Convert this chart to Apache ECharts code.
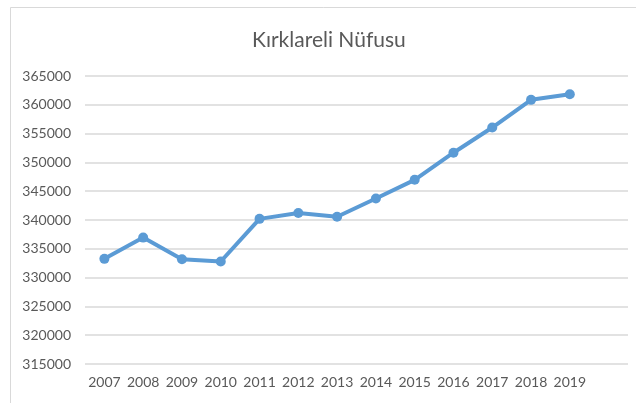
<!DOCTYPE html>
<html><head><meta charset="utf-8">
<script src="https://cdn.jsdelivr.net/npm/echarts@6/dist/echarts.min.js"></script>
<style>html,body{margin:0;padding:0;background:#fff}#c{width:636px;height:403px}</style>
</head><body><div id="c"></div>
<script>
const years = [2007,2008,2009,2010,2011,2012,2013,2014,2015,2016,2017,2018,2019];
const population = [333256,336942,333179,332791,340199,341218,340559,343723,346973,351684,356050,360860,361836];
const titleText = 'Kırklareli Nüfusu';
const yMin = 315000, yMax = 365000, yStep = 5000;

const chart = echarts.init(document.getElementById('c'), null, {renderer:'canvas'});
const FONT = 'Lato';
chart.setOption({
  animation:false,
  backgroundColor:'#fff',
  graphic:[{type:'rect', shape:{x:10.5,y:7.5,width:700,height:500}, style:{fill:'none',stroke:'#d9d9d9',lineWidth:1}, silent:true}],
  title:{text:titleText, left:247, top:25, textStyle:{fontFamily:FONT,fontSize:21,fontWeight:'normal',color:'#595959'}},
  grid:{left:85, right:8, top:76, bottom:39},
  xAxis:{type:'value', min:2006.5, max:2020.5,
    axisLine:{show:false}, axisTick:{show:false}, splitLine:{show:false},
    axisLabel:{customValues:years, formatter:v=>String(v), color:'#595959', fontFamily:FONT, fontSize:14, margin:11}},
  yAxis:{type:'value', min:yMin, max:yMax, interval:yStep,
    axisLine:{show:false}, axisTick:{show:false},
    splitLine:{lineStyle:{color:'#d9d9d9', width:1.5}},
    axisLabel:{formatter:v=>String(v), color:'#595959', fontFamily:FONT, fontSize:14, margin:14}},
  series:[{type:'line', data:years.map((y,i)=>[y,population[i]]),
    lineStyle:{color:'#5b9bd5', width:4}, itemStyle:{color:'#5b9bd5'},
    symbol:'circle', symbolSize:10}]
});
</script></body></html>
